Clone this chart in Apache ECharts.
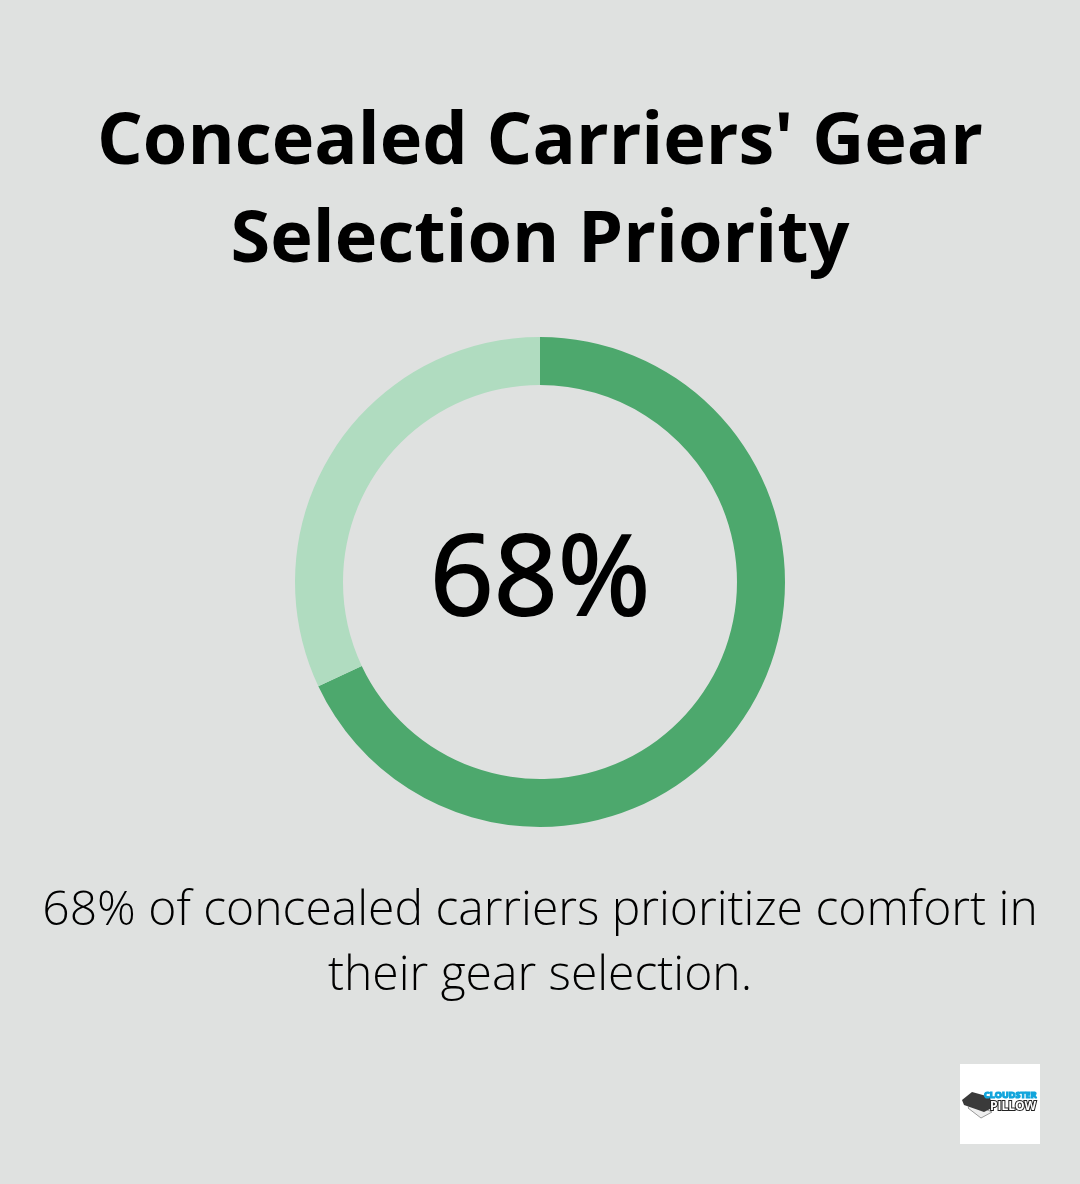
<!DOCTYPE html>
<html>
<head>
<meta charset="utf-8">
<style>
html, body { margin: 0; padding: 0; background: #dfe1e0; }
#chart { width: 1080px; height: 1184px; }
</style>
<script src="https://cdn.jsdelivr.net/npm/echarts@6/dist/echarts.min.js"></script>
</head>
<body>
<div id="chart"></div>
<script>
var titleLines = ["Concealed Carriers' Gear", "Selection Priority"];
var captionLines = ["68% of concealed carriers prioritize comfort in", "their gear selection."];
var sliceNames = ["Prioritize comfort", "Other"];
var sliceValues = [68, 32];
var centerLabel = "68%";
var logoLines = ["CLOUDSTER", "PILLOW"];

var chart = echarts.init(document.getElementById('chart'));

var option = {
	backgroundColor: '#dfe1e0',
	animation: false,
	graphic: [
		{ type: 'text', left: 'center', top: 107, style: { text: titleLines[0], font: 'bold 72px "Open Sans"', fill: '#000' } },
		{ type: 'text', left: 'center', top: 205, style: { text: titleLines[1], font: 'bold 72px "Open Sans"', fill: '#000' } },
		//medium weight is not installed, so thicken with a stroke
		{ type: 'text', left: 'center', top: 526, style: { text: centerLabel, font: '112px "Open Sans"', fill: '#000', stroke: '#000', lineWidth: 2 } },
		{ type: 'text', left: 'center', top: 887, style: { text: captionLines[0], font: '300 48px "Open Sans"', fill: '#000' } },
		{ type: 'text', left: 'center', top: 952, style: { text: captionLines[1], font: '300 48px "Open Sans"', fill: '#000' } },
		// logo
		{ type: 'rect', shape: { x: 960, y: 1064, width: 80, height: 80 }, style: { fill: '#fff' } },
		{ type: 'polygon', shape: { points: [[968, 1108], [981, 1118], [992, 1112], [972, 1103]] }, style: { fill: '#eee', stroke: '#999', lineWidth: 1 } },
		{ type: 'polygon', shape: { points: [[962, 1100], [972, 1092], [990, 1097], [992, 1108], [984, 1112], [964, 1105]] }, style: { fill: '#3a3a3a' } },
		{ type: 'text', x: 984, y: 1091, style: { text: logoLines[0], font: 'bold 9px "Open Sans"', fill: '#12a5dc', stroke: '#12a5dc', lineWidth: 1.2 } },
		{ type: 'text', x: 990, y: 1101, style: { text: logoLines[1], font: 'bold 12px "Open Sans"', fill: '#fff', stroke: '#222', lineWidth: 2 } }
	],
	series: [{
		type: 'pie',
		center: [540, 582],
		radius: [197, 245],
		startAngle: 90,
		silent: true,
		label: { show: false },
		labelLine: { show: false },
		data: [
			{ name: sliceNames[0], value: sliceValues[0], itemStyle: { color: '#4da86d' } },
			{ name: sliceNames[1], value: sliceValues[1], itemStyle: { color: '#b0dcc0' } }
		]
	}]
};
chart.setOption(option);
</script>
</body>
</html>
